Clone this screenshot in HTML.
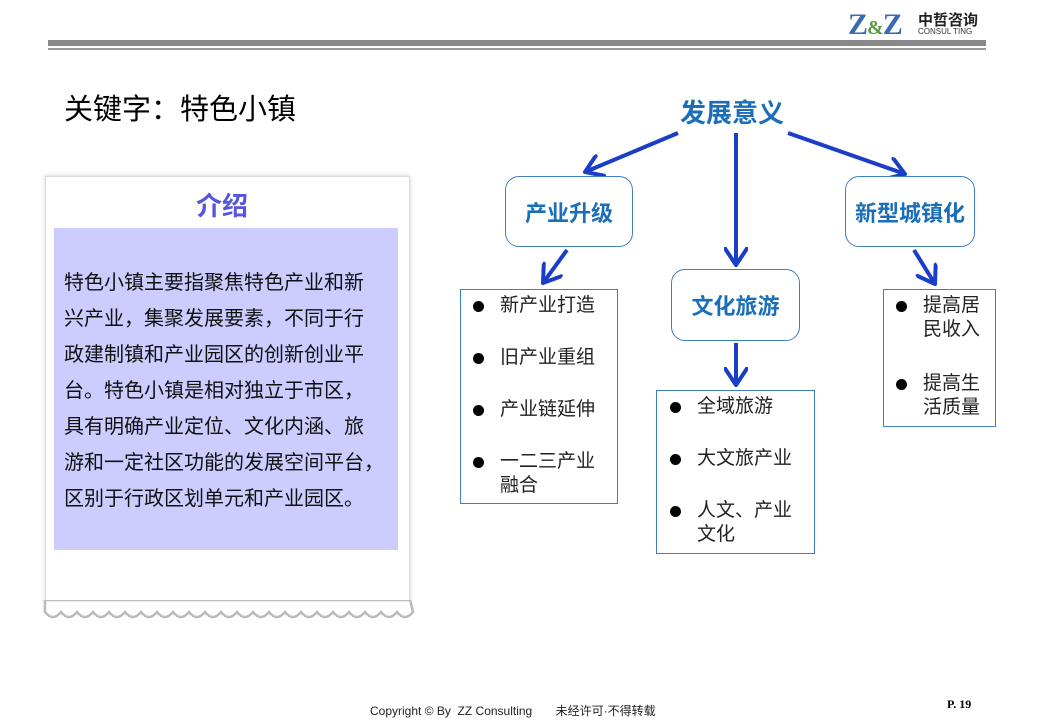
<!DOCTYPE html>
<html><head><meta charset="utf-8"><style>
*{box-sizing:border-box}
body{margin:0;width:1040px;height:720px;background:#fff;position:relative;overflow:hidden;font-family:"Liberation Sans","Noto Sans CJK SC",sans-serif}
.a{position:absolute}
.node{position:absolute;border:1px solid #3f7fbf;border-radius:14px;background:#fff;color:#1a6fb8;font-weight:bold;font-size:22px;display:flex;align-items:center;justify-content:center}
.list{position:absolute;border:1px solid #3f7fbf;background:#fff;font-size:19px;color:#222}
.it{position:absolute;line-height:24px}
.it b{position:absolute;left:-27px;top:7px;width:11px;height:11px;border-radius:50%;background:#000}
</style></head><body>
<div class="a" style="left:848px;top:8px;font-family:'Liberation Serif',serif;font-size:30px;font-weight:bold;color:#3a6ab0;letter-spacing:-1px">Z<span style="font-size:20px;color:#5a9a3a">&amp;</span>Z</div>
<div class="a" style="left:918px;top:9px;font-size:15px;color:#222;font-weight:bold">中哲咨询</div>
<div class="a" style="left:918px;top:27px;font-size:8px;color:#333">CONSUL TING</div>
<div class="a" style="left:48px;top:40px;width:938px;height:6px;background:#888"></div>
<div class="a" style="left:48px;top:48px;width:938px;height:2px;background:#999"></div>
<div class="a" style="left:64px;top:86px;font-size:29px;color:#000">关键字：特色小镇</div>

<div class="a" style="left:45px;top:176px;width:365px;height:436px;border:1px solid #ddd;border-bottom:none;box-shadow:0 0 4px #ccc;background:#fff"></div>
<svg class="a" style="left:40px;top:600px" width="375" height="26"><path d="M5 0 L5 12 q8 10 16 0 q8 10 16 0 q8 10 16 0 q8 10 16 0 q8 10 16 0 q8 10 16 0 q8 10 16 0 q8 10 16 0 q8 10 16 0 q8 10 16 0 q8 10 16 0 q8 10 16 0 q8 10 16 0 q8 10 16 0 q8 10 16 0 q8 10 16 0 q8 10 16 0 q8 10 16 0 q8 10 16 0 q8 10 16 0 q8 10 16 0 q8 10 16 0 q8 10 16 0 L370 0 Z" fill="#fff" stroke="#bbb" stroke-width="2.5"/></svg>
<div class="a" style="left:196px;top:186px;font-size:26px;font-weight:bold;color:#5555dd">介绍</div>
<div class="a" style="left:54px;top:228px;width:344px;height:322px;background:#ccccff"></div>
<div class="a" style="left:64px;top:265px;width:340px;font-size:20px;line-height:36px;color:#111">特色小镇主要指聚焦特色产业和新<br>兴产业，集聚发展要素，不同于行<br>政建制镇和产业园区的创新创业平<br>台。特色小镇是相对独立于市区，<br>具有明确产业定位、文化内涵、旅<br>游和一定社区功能的发展空间平台，<br>区别于行政区划单元和产业园区。</div>

<div class="a" style="left:680px;top:93px;font-size:26px;font-weight:bold;color:#1a6fb8">发展意义</div>
<svg class="a" style="left:0;top:0" width="1040" height="720">
<defs><marker id="m" markerWidth="5" markerHeight="6" refX="4.5" refY="3" orient="auto" markerUnits="strokeWidth"><path d="M0 0 L4.5 3 L0 6" fill="none" stroke="#1a3ec8" stroke-width="1"/></marker></defs>
<g stroke="#1a3ec8" stroke-width="4" fill="none" marker-end="url(#m)">
<line x1="678" y1="133" x2="585" y2="172"/>
<line x1="736" y1="133" x2="736" y2="265"/>
<line x1="788" y1="133" x2="905" y2="174"/>
<line x1="567" y1="250" x2="543" y2="283"/>
<line x1="914" y1="250" x2="935" y2="284"/>
<line x1="736" y1="343" x2="736" y2="385"/>
</g></svg>
<div class="node" style="left:505px;top:176px;width:128px;height:71px">产业升级</div>
<div class="node" style="left:671px;top:269px;width:129px;height:72px">文化旅游</div>
<div class="node" style="left:845px;top:176px;width:130px;height:71px">新型城镇化</div>

<div class="list" style="left:460px;top:289px;width:158px;height:215px">
<div class="it" style="left:39px;top:4px"><b></b>新产业打造</div>
<div class="it" style="left:39px;top:56px"><b></b>旧产业重组</div>
<div class="it" style="left:39px;top:108px"><b></b>产业链延伸</div>
<div class="it" style="left:39px;top:160px"><b></b>一二三产业<br>融合</div>
</div>
<div class="list" style="left:656px;top:390px;width:159px;height:164px">
<div class="it" style="left:40px;top:4px"><b></b>全域旅游</div>
<div class="it" style="left:40px;top:56px"><b></b>大文旅产业</div>
<div class="it" style="left:40px;top:108px"><b></b>人文、产业<br>文化</div>
</div>
<div class="list" style="left:883px;top:289px;width:113px;height:138px">
<div class="it" style="left:39px;top:4px"><b></b>提高居<br>民收入</div>
<div class="it" style="left:39px;top:82px"><b></b>提高生<br>活质量</div>
</div>

<div class="a" style="left:370px;top:702px;font-size:12px;color:#222">Copyright © By&nbsp; ZZ Consulting &nbsp;&nbsp;&nbsp;&nbsp;&nbsp; 未经许可·不得转载</div>
<div class="a" style="left:947px;top:697px;font-size:12px;font-weight:bold;font-family:'Liberation Serif',serif">P. 19</div>
</body></html>
